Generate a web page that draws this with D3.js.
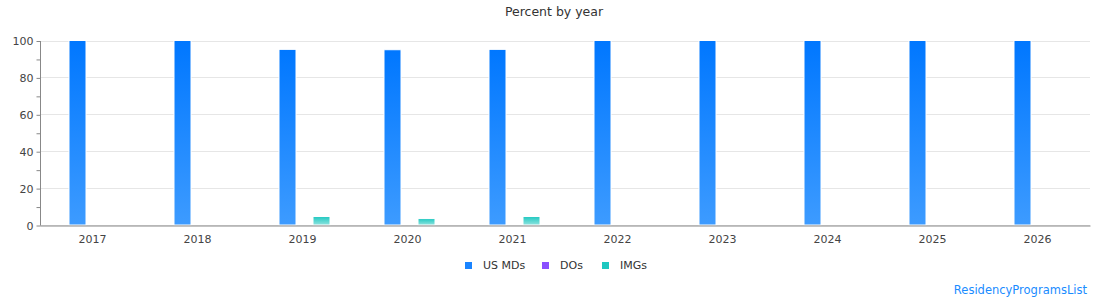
<!DOCTYPE html>
<html>
<head>
<meta charset="UTF-8">
<title>Percent by year</title>
<style>
body { margin: 0; background: #fff; }
text { font-family: "DejaVu Sans", Verdana, sans-serif; }
</style>
</head>
<body>
<svg width="1110" height="300"></svg>
<script src="https://cdn.jsdelivr.net/npm/d3@7"></script>
<script>
// chart data
var years = ["2017", "2018", "2019", "2020", "2021", "2022", "2023", "2024", "2025", "2026"];
var seriesNames = ["US MDs", "DOs", "IMGs"];
var usMDs = [100, 100, 95.2, 95, 95.2, 100, 100, 100, 100, 100];
var dos = [0, 0, 0, 0, 0, 0, 0, 0, 0, 0];
var imgs = [0, 0, 4.6, 3.5, 4.6, 0, 0, 0, 0, 0];
var yTicks = [0, 20, 40, 60, 80, 100];

var colors = { "US MDs": ["#0077ff", "#3d9bff"], "DOs": ["#8a4fff", "#a77cff"], "IMGs": ["#1ec8c0", "#8fe3df"] };
var legendColors = ["#1a84ff", "#8a4fff", "#1ec8c0"];

var svg = d3.select("svg"),
    margin = { left: 40, right: 20, top: 40.5, bottom: 75 },
    plotW = 1090 - margin.left,
    plotH = 225 - margin.top;

var rows = years.map(function(y, i) {
  return { year: y, values: [usMDs[i], dos[i], imgs[i]] };
});

var x0 = d3.scaleBand().domain(years).range([margin.left, margin.left + plotW]);
var x1 = d3.scaleBand().domain(seriesNames).range([-24, 27]);
var y = d3.scaleLinear().domain([0, 100]).range([225, margin.top]);

// gradients
var defs = svg.append("defs");
seriesNames.forEach(function(s, i) {
  var g = defs.append("linearGradient").attr("id", "grad" + i)
    .attr("x1", 0).attr("y1", 0).attr("x2", 0).attr("y2", 1);
  g.append("stop").attr("offset", "0%").attr("stop-color", colors[s][0]);
  g.append("stop").attr("offset", "100%").attr("stop-color", colors[s][1]);
});

// title
svg.append("text").text("Percent by year")
  .attr("x", 554).attr("y", 16)
  .attr("text-anchor", "middle")
  .style("font-size", "12.5px")
  .style("fill", "#333");

// gridlines
svg.append("g").selectAll("line").data(yTicks).enter().append("line")
  .attr("x1", margin.left).attr("x2", margin.left + plotW)
  .attr("y1", function(d) { return Math.round(y(d)) + 0.5; })
  .attr("y2", function(d) { return Math.round(y(d)) + 0.5; })
  .attr("stroke", "#e6e6e6");

// y axis with minor ticks
var yAxis = svg.append("g").attr("transform", "translate(" + (margin.left + 0.5) + ",0.5)")
  .call(d3.axisLeft(y).tickValues(d3.range(0, 101, 10)).tickSize(4)
    .tickFormat(function(d) { return yTicks.indexOf(d) >= 0 ? d : ""; }));
yAxis.select(".domain").attr("stroke", "#888").attr("d", "M0," + y(100) + "V" + y(0));
yAxis.selectAll(".tick line").attr("stroke", "#888");
yAxis.selectAll(".tick text").attr("x", -7)
  .style("font-size", "11px").style("fill", "#444").style("font-family", "DejaVu Sans, sans-serif");

// bars
var groups = svg.append("g").selectAll("g").data(rows).enter().append("g")
  .attr("transform", function(d) { return "translate(" + (x0(d.year) + x0.bandwidth() / 2) + ",0)"; });

groups.selectAll("rect").data(function(d) {
  return d.values.map(function(v, i) { return { name: seriesNames[i], idx: i, value: v }; });
}).enter().filter(function(d) { return d.value > 0; }).append("rect")
  .attr("x", function(d) { return x1(d.name) + 0.5; })
  .attr("y", function(d) { return y(d.value); })
  .attr("width", x1.bandwidth())
  .attr("height", function(d) { return y(0) - y(d.value); })
  .attr("fill", function(d) { return "url(#grad" + d.idx + ")"; })
  .attr("stroke", "#fff")
  .attr("stroke-width", 1);

// x axis
var xAxis = svg.append("g").attr("transform", "translate(0," + (y(0) + 0.5) + ")")
  .call(d3.axisBottom(x0).tickSize(0).tickPadding(10));
xAxis.select(".domain").attr("stroke", "#888");
xAxis.selectAll(".tick text")
  .style("font-size", "11px").style("fill", "#444").style("font-family", "DejaVu Sans, sans-serif");

// legend
var legendX = [465, 542, 602];
var legend = svg.append("g").selectAll("g").data(seriesNames).enter().append("g")
  .attr("transform", function(d, i) { return "translate(" + legendX[i] + ",262)"; });
legend.append("rect").attr("width", 7).attr("height", 7)
  .attr("fill", function(d, i) { return legendColors[i]; });
legend.append("text").text(function(d) { return d; })
  .attr("x", 18).attr("y", 7)
  .style("font-size", "11px").style("fill", "#333");

// credits
svg.append("text").text("ResidencyProgramsList")
  .attr("x", 1087).attr("y", 294)
  .attr("text-anchor", "end")
  .style("font-size", "11.5px")
  .style("fill", "#1a8cff");
</script>
</body>
</html>
